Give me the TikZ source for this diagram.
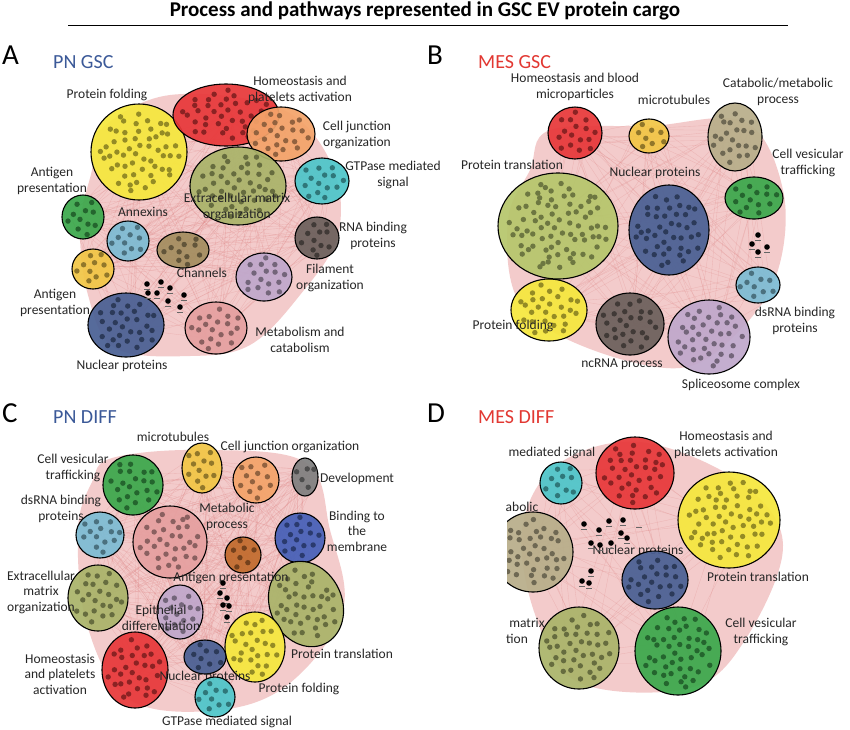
\documentclass[tikz,border=0pt]{standalone}
\usepackage{fontspec}
\setmainfont{Carlito}
\usetikzlibrary{shapes.geometric,calc,backgrounds}
\definecolor{cyel}{RGB}{246,232,62}
\definecolor{cred}{RGB}{232,56,58}
\definecolor{corg}{RGB}{244,164,106}
\definecolor{ccya}{RGB}{78,198,202}
\definecolor{coli}{RGB}{170,180,106}
\definecolor{cgrn}{RGB}{60,168,76}
\definecolor{clbl}{RGB}{125,188,212}
\definecolor{cbrn}{RGB}{164,142,96}
\definecolor{cdgr}{RGB}{108,96,92}
\definecolor{cgld}{RGB}{242,198,70}
\definecolor{clil}{RGB}{192,168,204}
\definecolor{cnav}{RGB}{74,96,148}
\definecolor{cpnk}{RGB}{230,160,160}
\definecolor{clgr}{RGB}{182,198,108}
\definecolor{ckha}{RGB}{184,174,138}
\definecolor{cblu}{RGB}{70,96,184}
\definecolor{cgry}{RGB}{128,128,128}
\definecolor{cbrw}{RGB}{194,108,46}
\definecolor{ctpn}{RGB}{59,89,152}
\definecolor{ctms}{RGB}{226,56,50}
\definecolor{pinkfill}{RGB}{240,186,186}
\definecolor{pinkline}{RGB}{222,128,128}
\tikzset{
  clus/.style={ellipse, draw=black, line width=1.1pt, inner sep=0pt, fill opacity=0.93},
  lbl/.style={font=\fontsize{13.5}{15.5}\selectfont, text=black!85, align=center, inner sep=0pt},
  pnl/.style={font=\fontsize{29}{30}\selectfont, inner sep=0pt, anchor=west},
  ptitle/.style={font=\fontsize{20}{22}\selectfont, inner sep=0pt, anchor=west},
  pinkbg/.style={fill=pinkfill, opacity=0.75},
  pl/.style={draw=pinkline, line width=0.35pt, opacity=0.3},
}
% cluster: name, x, y, rx, ry, colour, rotation
\newcommand\clu[7]{%
  \node[clus, fill=#6, rotate=#7, minimum width=2*#4pt, minimum height=2*#5pt] (#1) at (#2,#3) {};
  \pgfmathtruncatemacro\nd{max(4,0.024*#4*#5)}
  \foreach \k in {1,...,\nd}{
    \pgfmathsetmacro\rr{0.84*sqrt((\k-0.5)/\nd)}
    \pgfmathsetmacro\aa{\k*137.508+rnd*18}
    \pgfmathsetmacro\ux{#4*\rr*cos(\aa)}
    \pgfmathsetmacro\uy{#5*\rr*sin(\aa)}
    \pgfmathsetmacro\dx{\ux*cos(#7)+\uy*sin(#7)}
    \pgfmathsetmacro\dy{-\ux*sin(#7)+\uy*cos(#7)}
    \fill[#6!60!black] ({#2+\dx},{#3+\dy}) circle (2.7pt);
  }
}
\newcommand\mesh[2]{%
  \foreach \i [count=\ci] in {#1}{
    \foreach \j [count=\cj] in {#1}{
      \ifnum\cj>\ci
        \foreach \r in {1,2,3}{
          \draw[pl] ($(\i.center)+(rand*#2,rand*#2)$) -- ($(\j.center)+(rand*#2,rand*#2)$);
        }
      \fi
    }
  }
}
\begin{document}
\begin{tikzpicture}[x=1pt,y=-1pt]
\pgfmathsetseed{7}
\useasboundingbox (0,0) rectangle (850,729);
\begin{pgfonlayer}{background}
  \fill[white] (0,0) rectangle (850,729);
\end{pgfonlayer}

% title
\node[font=\bfseries\fontsize{21}{24}\selectfont, inner sep=0pt] (title) at (425,11) {Process and pathways represented in GSC EV protein cargo};
\draw[line width=0.9pt] (68,25) -- (788,25);

% ================= Panel A =================
\node[pnl] (pA) at (2,55) {A};
\node[ptitle, text=ctpn] (tA) at (53,62) {PN GSC};
\clu{A1}{139}{152}{48}{48}{cyel}{0}
\clu{A2}{226}{115}{53}{31}{cred}{0}
\clu{A3}{281}{134}{34}{27}{corg}{0}
\clu{A4}{322}{181}{27}{23}{ccya}{0}
\clu{A5}{238}{186}{48}{39}{coli}{0}
\clu{A6}{83}{217}{21}{22}{cgrn}{0}
\clu{A7}{128}{241}{21}{20}{clbl}{0}
\clu{A8}{183}{250}{26}{18}{cbrn}{0}
\clu{A9}{317}{238}{22}{21}{cdgr}{0}
\clu{A10}{93}{269}{21}{20}{cgld}{0}
\clu{A11}{264}{277}{28}{24}{clil}{0}
\clu{A12}{126}{325}{38}{32}{cnav}{0}
\clu{A13}{216}{328}{31}{26}{cpnk}{0}
\begin{pgfonlayer}{background}
  \fill[pinkbg] plot[smooth cycle, tension=0.6] coordinates {(100,130) (170,95) (280,108) (332,165) (338,235) (300,295) (250,345) (190,356) (115,348) (88,295) (80,225) (92,170)};
  \mesh{A1,A2,A3,A4,A5,A6,A7,A8,A9,A10,A11,A12,A13}{14}
\end{pgfonlayer}
\foreach \p in {(147,284),(161,282),(170,288),(148,293),(157,293),(184,295),(168,301),(180,307)} {
  \path \p coordinate (bdp);
  \fill (bdp) circle (2.8pt);
  \draw[line width=0.6pt, black!60] ($(bdp)+(-3,5)$) -- ($(bdp)+(3,5)$);
}
\node[lbl] (lA1) at (107,95) {Protein folding};
\node[lbl] (lA2) at (300,90) {Homeostasis and\\platelets activation};
\node[lbl] (lA3) at (357,135) {Cell junction\\organization};
\node[lbl] (lA4) at (393,175) {GTPase mediated\\signal};
\node[lbl] (lA5) at (237,207) {Extracellular matrix\\organization};
\node[lbl] (lA6) at (52,181) {Antigen\\presentation};
\node[lbl] (lA7) at (143,212) {Annexins};
\node[lbl] (lA8) at (202,273) {Channels};
\node[lbl] (lA9) at (373,236) {RNA binding\\proteins};
\node[lbl] (lA10) at (330,278) {Filament\\organization};
\node[lbl] (lA11) at (55,303) {Antigen\\presentation};
\node[lbl] (lA12) at (122,366) {Nuclear proteins};
\node[lbl] (lA13) at (300,340) {Metabolism and\\catabolism};

% ================= Panel B =================
\node[pnl] (pB) at (427,55) {B};
\node[ptitle, text=ctms] (tB) at (478,62) {MES GSC};
\clu{B1}{575}{133}{27}{26}{cred}{0}
\clu{B2}{649}{136}{20}{17}{cgld}{0}
\clu{B3}{735}{137}{27}{34}{ckha}{0}
\clu{B4}{754}{198}{29}{21}{cgrn}{0}
\clu{B8}{549}{310}{38}{31}{cyel}{0}
\clu{B5}{558}{226}{60}{53}{clgr}{0}
\clu{B6}{669}{230}{40}{45}{cnav}{0}
\clu{B7}{758}{285}{22}{18}{clbl}{0}
\clu{B9}{630}{324}{34}{31}{cdgr}{0}
\clu{B10}{709}{337}{41}{37}{clil}{0}
\begin{pgfonlayer}{background}
  \fill[pinkbg] plot[smooth cycle, tension=0.6] coordinates {(550,130) (650,126) (745,122) (783,190) (778,270) (740,330) (680,368) (580,345) (518,300) (508,220) (530,170)};
  \mesh{B1,B2,B3,B4,B5,B6,B7,B8,B9,B10}{14}
\end{pgfonlayer}
\foreach \p in {(758,235),(752,244),(767,247),(758,252)} {
  \path \p coordinate (bdp);
  \fill (bdp) circle (2.8pt);
  \draw[line width=0.6pt, black!60] ($(bdp)+(-3,5)$) -- ($(bdp)+(3,5)$);
}
\node[lbl] (lB1) at (575,87) {Homeostasis and blood\\microparticles};
\node[lbl] (lB2) at (674,100) {microtubules};
\node[lbl] (lB3) at (778,92) {Catabolic/metabolic\\process};
\node[lbl] (lB4) at (808,163) {Cell vesicular\\trafficking};
\node[lbl] (lB5) at (512,165) {Protein translation};
\node[lbl] (lB6) at (655,173) {Nuclear proteins};
\node[lbl] (lB7) at (795,321) {dsRNA binding\\proteins};
\node[lbl] (lB8) at (513,326) {Protein folding};
\node[lbl] (lB9) at (622,364) {ncRNA process};
\node[lbl] (lB10) at (741,385) {Spliceosome complex};

% ================= Panel C =================
\node[pnl] (pC) at (2,413) {C};
\node[ptitle, text=ctpn] (tC) at (53,417) {PN DIFF};
\clu{C1}{202}{468}{20}{25}{cgld}{0}
\clu{C2}{256}{480}{23}{23}{corg}{0}
\clu{C3}{305}{477}{13}{19}{cgry}{0}
\clu{C4}{133}{485}{30}{30}{cgrn}{0}
\clu{C5}{100}{535}{24}{23}{clbl}{0}
\clu{C6}{170}{542}{37}{36}{cpnk}{0}
\clu{C7}{300}{538}{25}{25}{cblu}{0}
\clu{C8}{243}{555}{18}{18}{cbrw}{0}
\clu{C9}{98}{598}{30}{33}{coli}{0}
\clu{C10}{306}{604}{36}{44}{coli}{25}
\clu{C11}{180}{612}{23}{27}{clil}{0}
\clu{C12}{255}{647}{30}{35}{cyel}{0}
\clu{C13}{135}{670}{33}{38}{cred}{0}
\clu{C14}{205}{657}{21}{17}{cnav}{0}
\node[lbl] (lC14) at (205,677) {Nuclear proteins};
\clu{C15}{215}{697}{20}{20}{ccya}{0}
\begin{pgfonlayer}{background}
  \fill[pinkbg] plot[smooth cycle, tension=0.6] coordinates {(112,458) (200,450) (305,462) (330,530) (343,610) (290,683) (220,710) (130,700) (87,625) (78,530) (92,482)};
  \mesh{C1,C2,C3,C4,C5,C6,C7,C8,C9,C10,C11,C12,C13,C14,C15}{12}
\end{pgfonlayer}
\foreach \p in {(223,583),(220,593),(227,598),(223,605),(229,606),(227,617)} {
  \path \p coordinate (bdp);
  \fill (bdp) circle (2.8pt);
  \draw[line width=0.6pt, black!60] ($(bdp)+(-3,5)$) -- ($(bdp)+(3,5)$);
}
\node[lbl] (lC1) at (173,437) {microtubules};
\node[lbl] (lC2) at (290,447) {Cell junction organization};
\node[lbl] (lC3) at (357,479) {Development};
\node[lbl] (lC4) at (73,468) {Cell vesicular\\trafficking};
\node[lbl] (lC5) at (61,509) {dsRNA binding\\proteins};
\node[lbl] (lC6) at (227,517) {Metabolic\\process};
\node[lbl] (lC7) at (357,531) {Binding to\\the\\membrane};
\node[lbl] (lC9) at (41,592) {Extracellular\\matrix\\organization};
\node[lbl] (lC8) at (231,578) {Antigen presentation};
\node[lbl] (lC11) at (161,618) {Epithelial\\differentiation};
\node[lbl] (lC13) at (60,674) {Homeostasis\\and platelets\\activation};
\node[lbl] (lC10) at (342,654) {Protein translation};
\node[lbl] (lC12) at (299,689) {Protein folding};
\node[lbl] (lC15) at (227,722) {GTPase mediated signal};

% ================= Panel D =================
\node[pnl] (pD) at (427,413) {D};
\node[ptitle, text=ctms] (tD) at (478,417) {MES DIFF};
\clu{D1}{561}{483}{21}{21}{ccya}{0}
\clu{D2}{635}{473}{39}{36}{cred}{0}
\clu{D3}{729}{520}{51}{48}{cyel}{0}
\begin{scope}
  \clip (507,400) rectangle (850,729);
  \clu{D4}{533}{552}{40}{40}{ckha}{0}
\end{scope}
\node[lbl] (lD5) at (638,551) {Nuclear proteins};
\clu{D5}{655}{580}{33}{29}{cnav}{0}
\clu{D6}{579}{648}{40}{41}{coli}{0}
\clu{D7}{678}{651}{43}{44}{cgrn}{0}
\begin{pgfonlayer}{background}
  \begin{scope}
    \clip (507,400) rectangle (850,729);
    \fill[pinkbg] plot[smooth cycle, tension=0.6] coordinates {(557,465) (640,442) (740,482) (783,545) (745,640) (690,688) (580,683) (537,620) (522,530)};
    \mesh{D1,D2,D3,D4,D5,D6,D7}{16}
  \end{scope}
\end{pgfonlayer}
\foreach \p in {(584,524),(599,530),(609,521),(623,520),(621,533),(627,538),(591,543),(600,545),(611,543),(591,571),(582,581),(589,583)} {
  \path \p coordinate (bdp);
  \fill (bdp) circle (2.8pt);
  \draw[line width=0.6pt, black!60] ($(bdp)+(-3,5)$) -- ($(bdp)+(3,5)$);
}
\draw[line width=0.6pt, black!60] (636,527) -- (642,527);
\node[lbl] (lD1) at (552,453) {mediated signal};
\node[lbl] (lD2) at (726,445) {Homeostasis and\\platelets activation};
\node[lbl] (lD3) at (758,577) {Protein translation};
\node[lbl] (lD4) at (522,507) {abolic};
\node[lbl] (lD6a) at (527,623) {matrix};
\node[lbl] (lD6b) at (517,639) {tion};
\node[lbl] (lD7) at (761,632) {Cell vesicular\\trafficking};
\end{tikzpicture}
\end{document}
